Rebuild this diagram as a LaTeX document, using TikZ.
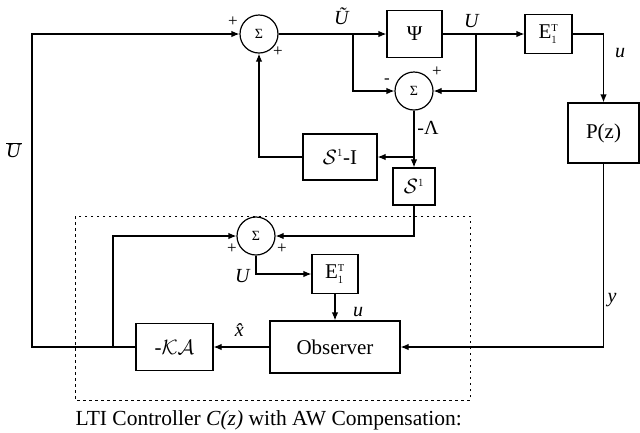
\documentclass[tikz,border=0pt]{standalone}
\usepackage{fontspec}
\setmainfont{Liberation Serif}
\usetikzlibrary{arrows.meta}
\begin{document}
\begin{tikzpicture}[x=1pt,y=-1pt,
  line width=1.2pt,
  arr/.style={-{Latex[length=8pt,width=6.5pt]}},
  blk/.style={draw, rectangle, inner sep=0pt, font=\fontsize{21}{24}\selectfont},
  sumc/.style={draw, circle, minimum size=38pt, inner sep=0pt, font=\fontsize{14}{14}\selectfont},
  lbl/.style={inner sep=0pt, font=\fontsize{20}{22}\selectfont},
  sgn/.style={inner sep=0pt, font=\fontsize{17}{17}\selectfont}]
\useasboundingbox (0,0) rectangle (640,432);
% blocks
\node[sumc] (s1) at (259,34) {Σ};
\node[blk, minimum width=55pt, minimum height=47pt] (psi) at (414.5,34) {Ψ};
\node[blk, minimum width=47pt, minimum height=39pt] (e1) at (548.5,34) {E$_{\scriptscriptstyle 1}^{\scriptscriptstyle \mathrm{T}}$};
\node[blk, minimum width=71pt, minimum height=60pt] (pz) at (603.5,133) {P(z)};
\node[sumc] (s2) at (414,91) {Σ};
\node[blk, minimum width=74pt, minimum height=46pt] (sI) at (340,157) {$\mathcal{S}^{\scriptscriptstyle 1}$-I};
\node[blk, minimum width=42pt, minimum height=37pt] (si) at (414,186.5) {$\mathcal{S}^{\scriptscriptstyle 1}$};
\node[sumc] (is) at (256,236) {Σ};
\node[blk, minimum width=46pt, minimum height=39pt] (ie) at (335,274) {E$_{\scriptscriptstyle 1}^{\scriptscriptstyle \mathrm{T}}$};
\node[blk, minimum width=130pt, minimum height=52pt] (obs) at (335,347) {Observer};
\node[blk, minimum width=77pt, minimum height=47pt] (kA) at (174.5,347) {-$\mathcal{K}\mathcal{A}$};
% dotted frame and caption
\draw[line width=1pt, dash pattern=on 2.5pt off 3.5pt] (75,216) rectangle (470,400);
\node[inner sep=0pt, anchor=base west, font=\fontsize{21.5}{24}\selectfont] (cap) at (75,425) {LTI Controller \textit{C(z)} with AW Compensation:};
% coordinates
\coordinate (cL) at (32,347);
\coordinate (cT) at (32,34);
\coordinate (j1) at (113,347);
\coordinate (b1) at (353,34);
\coordinate (b2) at (476,34);
\coordinate (b3) at (414,157);
% connectors
\draw[arr] (kA.west) -- (cL) -- (cT) -- (s1.west);
\draw[arr] (j1) |- (is.west);
\draw[arr] (s1.east) -- (psi.west);
\draw[arr] (b1) |- (s2.west);
\draw[arr] (psi.east) -- (e1.west);
\draw[arr] (b2) |- (s2.east);
\draw[arr] (e1.east) -| (pz.north);
\draw[arr] (pz.south) |- (obs.east);
\draw (s2.south) -- (b3);
\draw[arr] (b3) -- (sI.east);
\draw[arr] (b3) -- (si.north);
\draw[arr] (sI.west) -| (s1.south);
\draw[arr] (si.south) |- (is.east);
\draw[arr] (is.south) |- (ie.west);
\draw[arr] (ie.south) -- (obs.north);
\draw[arr] (obs.west) -- (kA.east);
% labels
\node[sgn] (p1) at (233,22) {+};
\node[sgn] (p2) at (278,52) {+};
\node[lbl] (lUt) at (342,16) {\textit{\~{U}}};
\node[lbl] (lU) at (472,21) {\textit{U}};
\node[sgn] (m2) at (387,81) {-};
\node[sgn] (p3) at (437,72) {+};
\node[lbl] (lL) at (428,128) {-Λ};
\node[lbl] (lu) at (620,53) {\textit{u}};
\node[lbl] (ly) at (612,300) {\textit{y}};
\node[sgn] (p4) at (232,249) {+};
\node[sgn] (p5) at (282,249) {+};
\node[lbl] (lUi) at (243,276) {\textit{U}};
\node[lbl] (lui) at (358,312) {\textit{u}};
\node[lbl] (lx) at (243,330) {\textit{\^{x}}};
\node[lbl] (lUb) at (14,150) {$\overline{\mbox{\textit{U}}}$};
\end{tikzpicture}
\end{document}
